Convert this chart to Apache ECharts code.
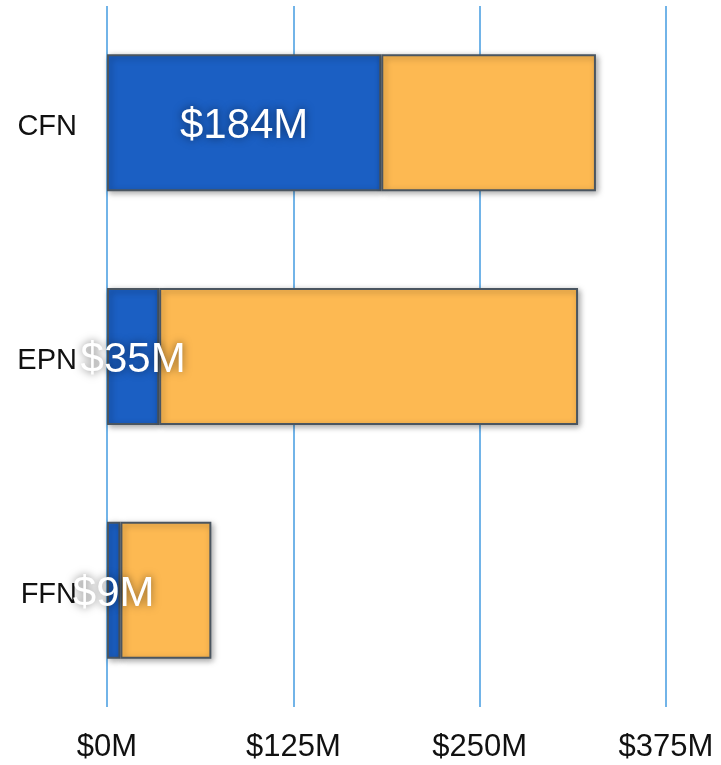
<!DOCTYPE html>
<html><head><meta charset="utf-8">
<script src="https://cdn.jsdelivr.net/npm/echarts@6/dist/echarts.min.js"></script>
<style>html,body{margin:0;padding:0;background:#fff}#c{width:721px;height:765px}</style>
</head><body><div id="c"></div>
<script>
const categories = ['CFN', 'EPN', 'FFN'];
const blueValues = [184, 35, 9];
const orangeValues = [144, 281, 61];
const tickLabels = ['$0M', '$125M', '$250M', '$375M'];

const chart = echarts.init(document.getElementById('c'), null, {renderer: 'canvas'});
const itemBase = {borderColor: '#4a5560', borderWidth: 2, shadowBlur: 6, shadowColor: 'rgba(0,0,0,0.35)', shadowOffsetX: 2, shadowOffsetY: 2};
chart.setOption({
  animation: false,
  grid: {left: 107, right: 55, top: 6, bottom: 58},
  xAxis: {
    type: 'value', min: 0, max: 375, interval: 125,
    axisLine: {show: false}, axisTick: {show: false},
    splitLine: {lineStyle: {color: '#72b4e8', width: 2}},
    axisLabel: {
      margin: 25, fontSize: 31, color: '#111', fontFamily: 'Liberation Sans',
      formatter: v => tickLabels[Math.round(v / 125)] || ''
    }
  },
  yAxis: {
    type: 'category', data: categories, inverse: true,
    axisLine: {show: false}, axisTick: {show: false},
    axisLabel: {margin: 30, fontSize: 29, color: '#111', fontFamily: 'Liberation Sans', verticalAlign: 'top', lineHeight: 9}
  },
  series: [
    {
      type: 'bar', stack: 't', data: blueValues, barWidth: '58.6%',
      itemStyle: Object.assign({color: '#1b5fc3'}, itemBase),
      label: {
        show: true, position: 'inside', offset: [0, 4], formatter: p => '$' + p.value + 'M',
        color: '#fff', fontSize: 42, fontFamily: 'Liberation Sans',
        textShadowColor: 'rgba(0,0,0,0.5)', textShadowBlur: 9
      }
    },
    {
      type: 'bar', stack: 't', data: orangeValues, barWidth: '58.6%',
      itemStyle: Object.assign({color: '#fdb952'}, itemBase)
    }
  ]
});
</script></body></html>
